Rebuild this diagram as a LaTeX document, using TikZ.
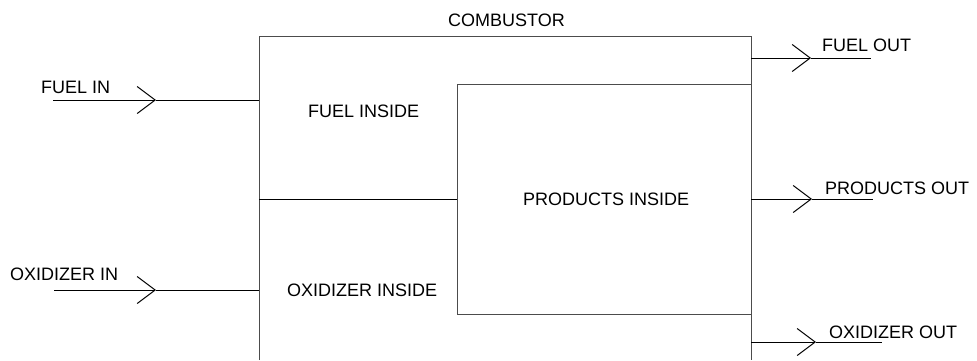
\documentclass[tikz,border=0pt]{standalone}
\usepackage{fontspec}
\setmainfont{Liberation Sans}
\usetikzlibrary{arrows.meta}
\begin{document}
\begin{tikzpicture}[x=1pt,y=-1pt,
  wall/.style={line width=1pt, draw=black!70},
  flow/.style={line width=1pt, draw=black},
  barb/.style={-{Straight Barb[length=18pt,width=27pt,line width=1pt]}},
  lbl/.style={font=\fontsize{18}{20}\selectfont, inner sep=0pt, anchor=base west}]
\useasboundingbox (0,0) rectangle (977,360);
% combustor walls
\coordinate (cbl) at (259,360);
\coordinate (ctl) at (259,36);
\coordinate (ctr) at (751,36);
\coordinate (cbr) at (751,360);
\draw[wall] (cbl) -- (ctl) -- (ctr) -- (cbr);
% products box
\coordinate (ptl) at (457,84);
\coordinate (ptr) at (751,84);
\coordinate (pbl) at (457,314);
\coordinate (pbr) at (751,314);
\draw[wall] (ptr) -- (ptl) -- (pbl) -- (pbr);
% divider
\coordinate (dl) at (259,199);
\coordinate (dr) at (457,199);
\draw[flow] (dl) -- (dr);
% labels
\node[lbl] (comb) at (448,26) {COMBUSTOR};
\node[lbl] (fin) at (41,93) {FUEL IN};
\node[lbl] (oin) at (10,280) {OXIDIZER IN};
\node[lbl] (fout) at (822,51) {FUEL OUT};
\node[lbl] (pout) at (825,194) {PRODUCTS OUT};
\node[lbl] (oout) at (829,338) {OXIDIZER OUT};
\node[lbl] (fins) at (308,117) {FUEL INSIDE};
\node[lbl] (pins) at (523,205) {PRODUCTS INSIDE};
\node[lbl] (oins) at (287,296) {OXIDIZER INSIDE};
% fuel in
\coordinate (fis) at (53,100);
\coordinate (fit) at (156,100);
\coordinate (fie) at (259,100);
\draw[flow,barb] (fis) -- (fit);
\draw[flow] (fit) -- (fie);
% oxidizer in
\coordinate (ois) at (54,290);
\coordinate (oit) at (156,290);
\coordinate (oie) at (259,290);
\draw[flow,barb] (ois) -- (oit);
\draw[flow] (oit) -- (oie);
% fuel out
\coordinate (fos) at (751,58);
\coordinate (fot) at (811,58);
\coordinate (foe) at (871,58);
\draw[flow,barb] (fos) -- (fot);
\draw[flow] (fot) -- (foe);
% products out
\coordinate (pos) at (751,199);
\coordinate (pot) at (812,199);
\coordinate (poe) at (873,199);
\draw[flow,barb] (pos) -- (pot);
\draw[flow] (pot) -- (poe);
% oxidizer out
\coordinate (oos) at (751,342);
\coordinate (oot) at (816,342);
\coordinate (ooe) at (882,342);
\draw[flow,barb] (oos) -- (oot);
\draw[flow] (oot) -- (ooe);
\end{tikzpicture}
\end{document}
